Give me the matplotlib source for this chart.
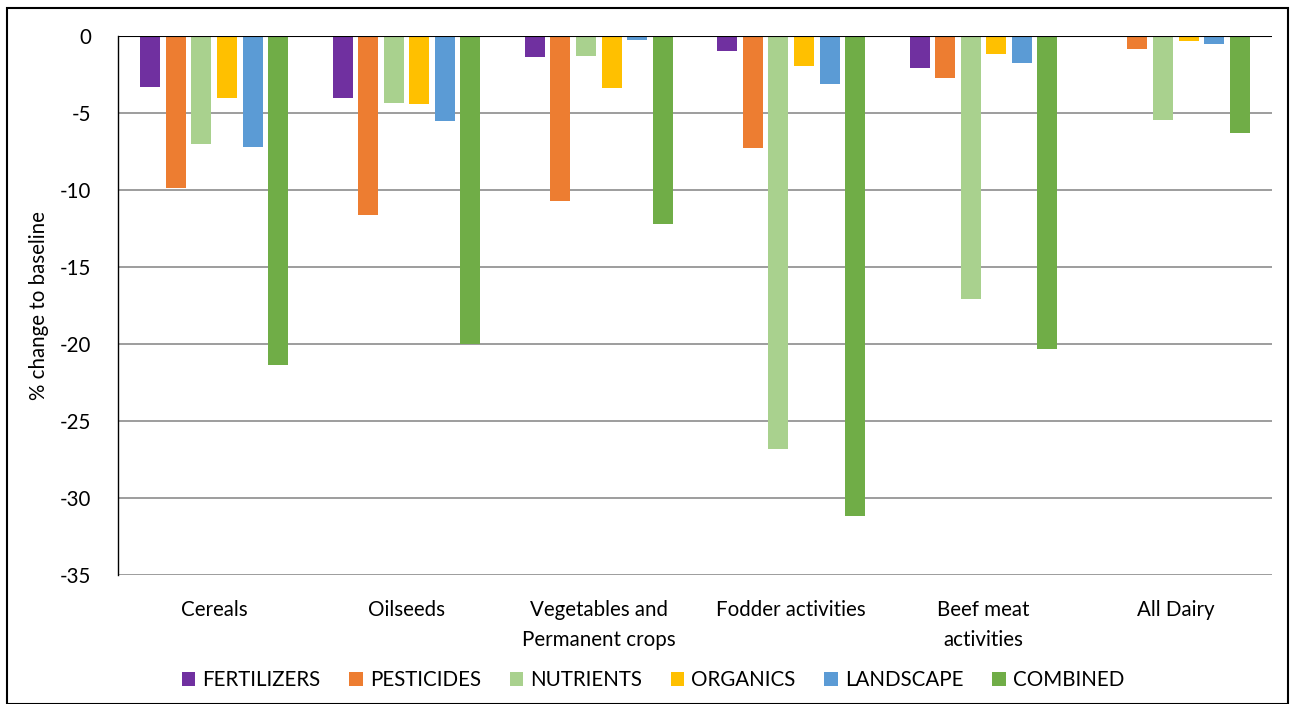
import matplotlib.pyplot as plt
from matplotlib.patches import Rectangle
import numpy as np

plt.rcParams['font.family'] = ['Lato', 'DejaVu Sans']

categories = ["Cereals", "Oilseeds", "Vegetables and\nPermanent crops",
              "Fodder activities", "Beef meat\nactivities", "All Dairy"]
series_names = ["FERTILIZERS", "PESTICIDES", "NUTRIENTS", "ORGANICS",
                "LANDSCAPE", "COMBINED"]
fertilizers = [-3.3, -4.0, -1.35, -1.0, -2.05, 0.0]
pesticides = [-9.9, -11.65, -10.7, -7.25, -2.75, -0.85]
nutrients = [-7.0, -4.35, -1.3, -26.8, -17.1, -5.45]
organics = [-4.0, -4.4, -3.4, -1.95, -1.15, -0.3]
landscape = [-7.2, -5.55, -0.25, -3.1, -1.75, -0.5]
combined = [-21.35, -20.0, -12.2, -31.2, -20.3, -6.3]
y_ticks = [0, -5, -10, -15, -20, -25, -30, -35]

colors = ["#7030A0", "#ED7D31", "#A9D18E", "#FFC000", "#5B9BD5", "#70AD47"]
all_series = [fertilizers, pesticides, nutrients, organics, landscape, combined]

fig = plt.figure(figsize=(12.9, 7.04), dpi=100)
ax = fig.add_axes([118 / 1290, 1 - 575 / 704, 1154 / 1290, 539 / 704])

x = np.arange(len(categories))
pitch = 0.133
width = 0.104
for i, (name, vals) in enumerate(zip(series_names, all_series)):
    ax.bar(x + (i - 2.5) * pitch, vals, width, color=colors[i], label=name,
           zorder=3)

fs = 14.8
ax.set_xlim(-0.5, len(categories) - 0.5)
ax.set_ylim(-35, 0)
ax.set_yticks(y_ticks)
ax.set_yticklabels([str(t) for t in y_ticks], fontsize=fs)
ax.yaxis.grid(True, color="#8c8c8c", linewidth=1.2, zorder=0)
ax.axhline(0, color="black", linewidth=1.5, zorder=4)
ax.tick_params(axis="y", length=0, pad=19)
ax.tick_params(axis="x", length=0, pad=18)
ax.set_xticks(x)
ax.set_xticklabels(categories, fontsize=fs, linespacing=1.6, va="top")
for s in ["top", "right", "bottom"]:
    ax.spines[s].set_visible(False)
ax.spines["left"].set_color("black")
ax.spines["left"].set_linewidth(1.0)
ax.set_ylabel("% change to baseline", fontsize=fs, labelpad=8)

ax.legend(loc="center", bbox_to_anchor=(653 / 1290, 1 - 680 / 704),
          bbox_transform=fig.transFigure, ncol=6, frameon=False,
          fontsize=fs, handlelength=0.65, handleheight=0.65,
          handletextpad=0.35, columnspacing=1.4)

fig.patches.append(Rectangle((7 / 1290, 0), 1281 / 1290, 1 - 8 / 704,
                             transform=fig.transFigure, fill=False,
                             edgecolor="black", linewidth=1.5))

fig.savefig("out.png", dpi=100)
